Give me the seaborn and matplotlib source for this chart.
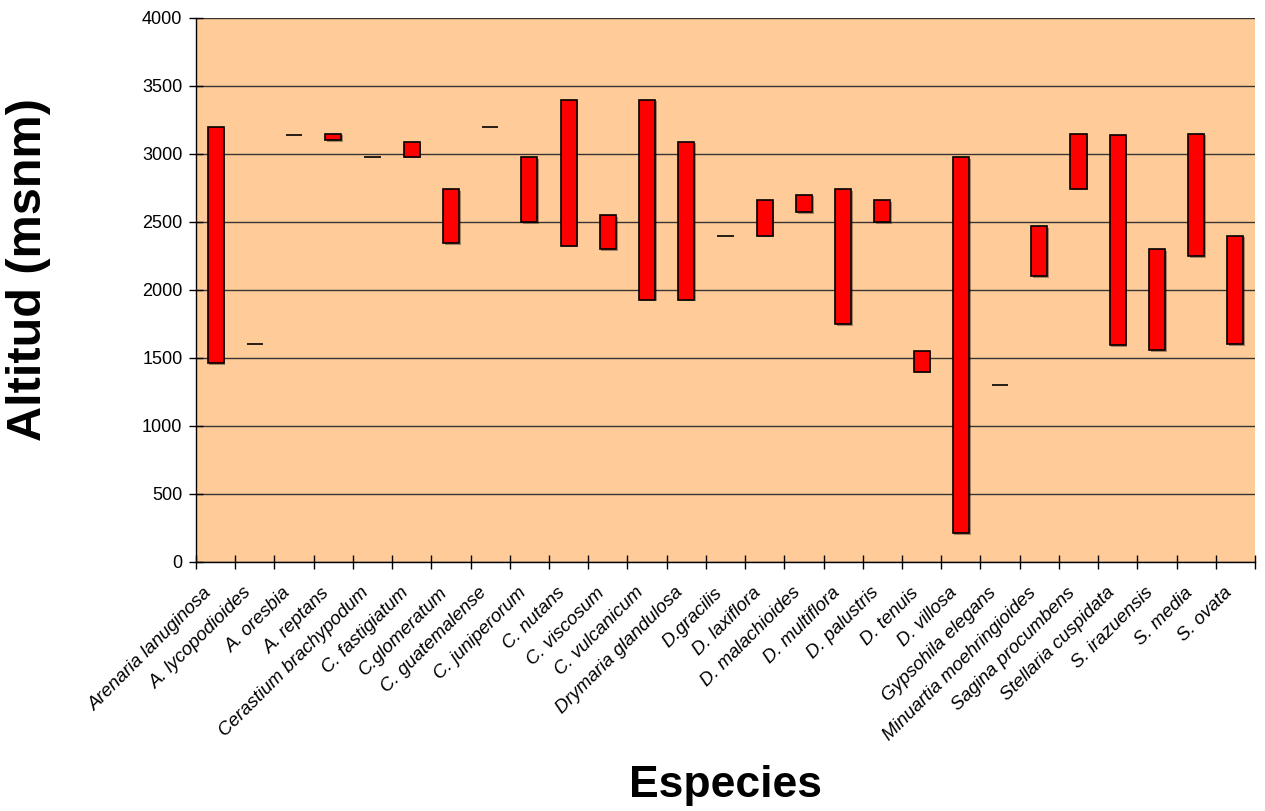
import matplotlib
matplotlib.use("Agg")
import matplotlib.pyplot as plt
import matplotlib.patheffects as pe
import matplotlib.transforms as mtransforms
import pandas as pd
import seaborn as sns

# Altitudinal range (m a.s.l.) of each species
species = [
    "Arenaria lanuginosa", "A. lycopodioides", "A. oresbia", "A. reptans",
    "Cerastium brachypodum", "C. fastigiatum", "C.glomeratum", "C. guatemalense",
    "C. juniperorum", "C. nutans", "C. viscosum", "C. vulcanicum",
    "Drymaria glandulosa", "D.gracilis", "D. laxiflora", "D. malachioides",
    "D. multiflora", "D. palustris", "D. tenuis", "D. villosa",
    "Gypsohila elegans", "Minuartia moehringioides", "Sagina procumbens",
    "Stellaria cuspidata", "S. irazuensis", "S. media", "S. ovata",
]
alt_min = [1460, 1600, 3140, 3100, 2975, 2980, 2345, 3200, 2500, 2325, 2300, 1930,
           1930, 2400, 2400, 2570, 1750, 2500, 1400, 210, 1300, 2100, 2745,
           1595, 1560, 2250, 1600]
alt_max = [3200, 1600, 3140, 3150, 2975, 3090, 2740, 3200, 2975, 3400, 2550, 3400,
           3090, 2400, 2660, 2700, 2740, 2660, 1555, 2975, 1300, 2470, 3150,
           3140, 2300, 3150, 2400]
y_ticks = [0, 500, 1000, 1500, 2000, 2500, 3000, 3500, 4000]

df = pd.DataFrame({"Especie": species, "min": alt_min, "max": alt_max})
df["rango"] = df["max"] - df["min"]

sns.set_theme(style="white")
plt.rcParams["font.family"] = ["Liberation Sans", "DejaVu Sans"]
plt.rcParams.update({"text.color": "black", "axes.labelcolor": "black",
                     "xtick.color": "black", "ytick.color": "black"})

W, H = 1265, 811
fig = plt.figure(figsize=(W / 100, H / 100), dpi=100)
ax = fig.add_axes([196 / W, 1 - 562 / H, (1255 - 196) / W, (562 - 18) / H])
ax.set_facecolor("#FFCC99")

# floating bars: from the lowest to the highest recorded altitude
sns.barplot(data=df, x="Especie", y="rango", order=species,
            bottom=df["min"].to_numpy(), color="#FF0000", saturation=1,
            width=0.41, edgecolor="black", linewidth=1.2, errorbar=None,
            zorder=3, ax=ax)
shadow = [pe.SimplePatchShadow(offset=(1.2, -1.2), shadow_rgbFace="#000000",
                               alpha=0.35), pe.Normal()]
for patch in ax.patches:
    patch.set_path_effects(shadow)

ax.set_xlim(-0.5, len(species) - 0.5)
ax.set_ylim(0, 4000)
ax.set_yticks(y_ticks)
ax.set_yticklabels([str(v) for v in y_ticks])
ax.yaxis.grid(True, color="#3a3330", linewidth=1.0)
ax.xaxis.grid(False)
ax.set_axisbelow(True)

for side in ("top", "right"):
    ax.spines[side].set_visible(False)
for side in ("left", "bottom"):
    ax.spines[side].set_color("black")
    ax.spines[side].set_linewidth(1.0)

ax.set_xlabel("")
ax.set_ylabel("")

# category separators as crossing tick marks
ax.set_xticks([i - 0.5 for i in range(len(species) + 1)], minor=True)
ax.tick_params(axis="x", which="minor", direction="inout", length=9.5,
               width=1, color="black", bottom=True)
ax.tick_params(axis="x", which="major", length=0, pad=16, bottom=True)
ax.tick_params(axis="y", which="major", direction="inout", length=9.5,
               width=1, color="black", labelsize=13, pad=5, left=True)

ax.set_xticks(range(len(species)))
ax.set_xticklabels(species, rotation=45, ha="right", va="top",
                   rotation_mode="anchor", fontstyle="italic", fontsize=13.5)
shift = mtransforms.ScaledTranslation(-12 / 100, 0, fig.dpi_scale_trans)
for lbl in ax.get_xticklabels():
    lbl.set_transform(lbl.get_transform() + shift)

fig.text(29 / W, 1 - 270 / H, "Altitud (msnm)", rotation=90, fontsize=35,
         fontweight="bold", ha="center", va="center")
fig.text(725 / W, 1 - 785 / H, "Especies", fontsize=32,
         fontweight="bold", ha="center", va="center")

fig.savefig("out.png", dpi=100, facecolor="white")
